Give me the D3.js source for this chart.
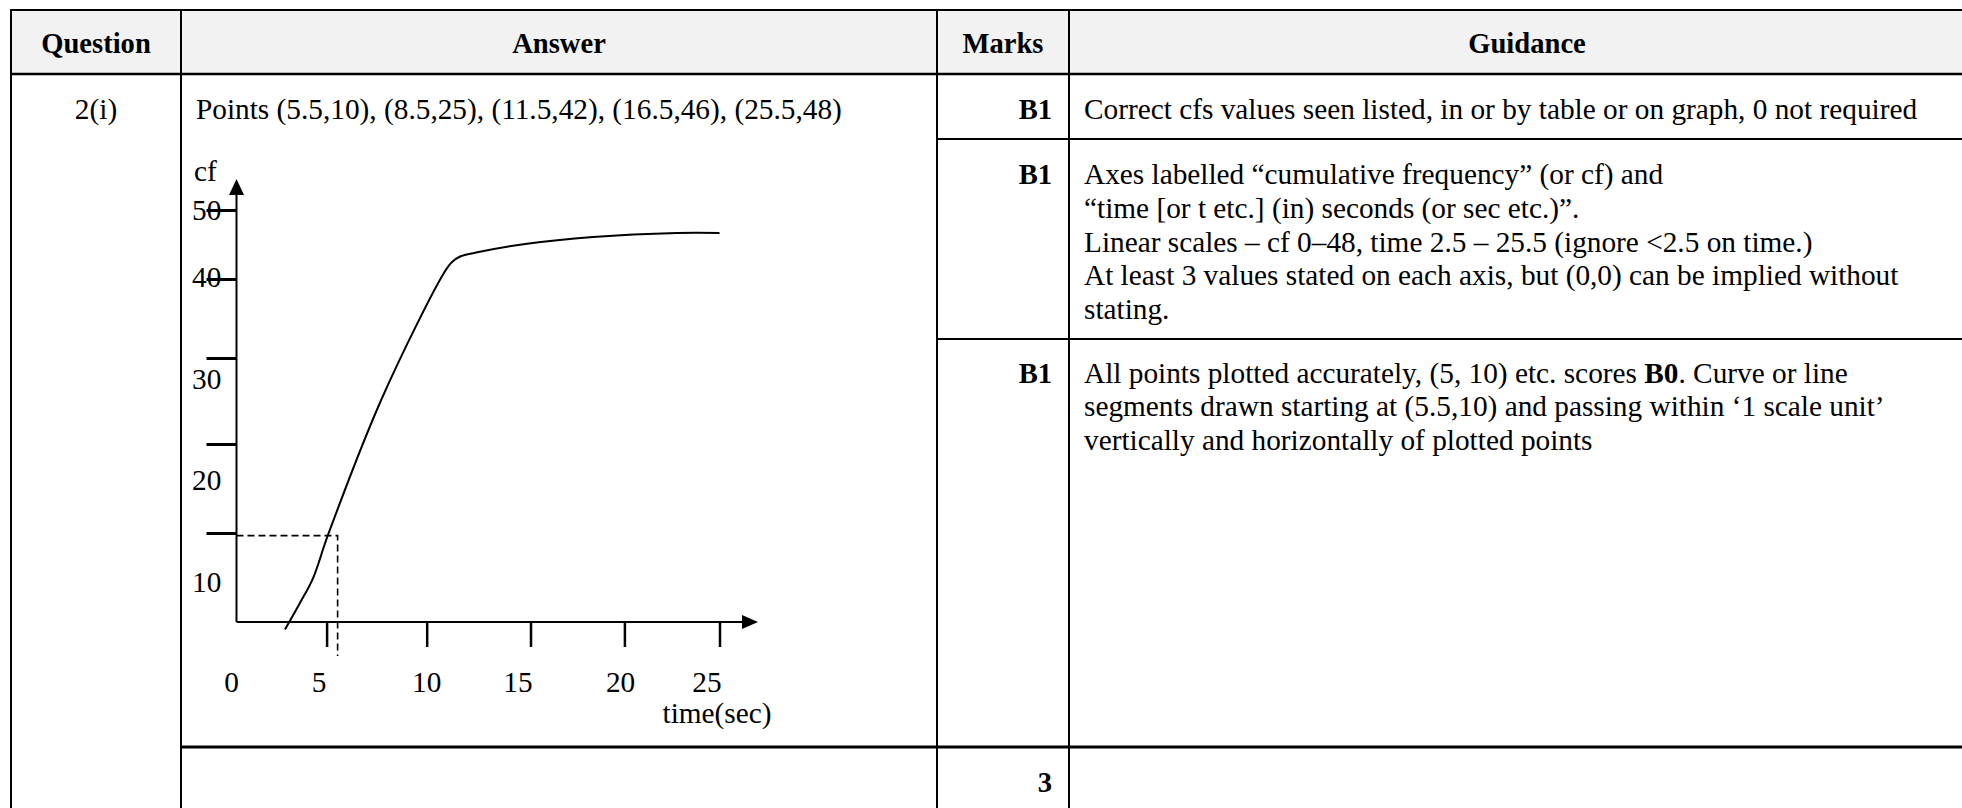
<!DOCTYPE html>
<html>
<head>
<meta charset="utf-8">
<script src="https://cdn.jsdelivr.net/npm/d3@7"></script>
<style>
  html, body { margin: 0; padding: 0; background: #fff; }
  svg { display: block; }
  text { font-family: "Liberation Serif", "Times New Roman", serif; fill: #000; }
</style>
</head>
<body>
<svg id="chart" width="1962" height="808"></svg>
<script>
// ---------- data ----------
const headers = ["Question", "Answer", "Marks", "Guidance"];
const questionLabel = "2(i)";
const answerText = "Points (5.5,10), (8.5,25), (11.5,42), (16.5,46), (25.5,48)";
const marks = ["B1", "B1", "B1"];
const totalMark = "3";
const guidance = [
  [["Correct cfs values seen listed, in or by table or on graph, 0 not required"]],
  [["Axes labelled \u201ccumulative frequency\u201d (or cf) and"],
   ["\u201ctime [or t etc.] (in) seconds (or sec etc.)\u201d."],
   ["Linear scales \u2013 cf 0\u201348, time 2.5 \u2013 25.5 (ignore <2.5 on time.)"],
   ["At least 3 values stated on each axis, but (0,0) can be implied without"],
   ["stating."]],
  [["All points plotted accurately, (5, 10) etc. scores ", "B0", ". Curve or line"],
   ["segments drawn starting at (5.5,10) and passing within \u20181 scale unit\u2019"],
   ["vertically and horizontally of plotted points"]]
];
const xTickValues = [5, 10, 15, 20, 25];
const xTickLabels = [0, 5, 10, 15, 20, 25];
const yTickValues = [10, 20, 30, 40, 50];
const yTickLabels = [10, 20, 30, 40, 50];
const yAxisTitle = "cf";
const xAxisTitle = "time(sec)";
// hand-drawn cumulative frequency curve (time in sec, cf)
const curveTime = [2.69, 3.52, 4.25, 5.07, 7.77, 10.83, 11.22, 11.61, 12.38, 14.74, 18.33, 22.77, 25];
const curveCf   = [-0.84, 2.13, 4.94, 9.78, 25.35, 40.87, 42.46, 43.26, 43.84, 45.07, 46.09, 46.67, 46.67];
// dashed read-off point
const readTime = [5.55];
const readCf = [9.7];

(function () {
// ---------- layout ----------
const svg = d3.select("#chart");
const FS = 29.3;
const FSH = 28.6;
const colX = [11, 181, 937, 1069, 1985];
const tTop = 10, headBottom = 74, rowLines = [139, 339, 747], tBottom = 830;

// header background
svg.append("rect").attr("x", colX[0]).attr("y", tTop)
  .attr("width", colX[4] - colX[0]).attr("height", headBottom - tTop)
  .attr("fill", "#f2f2f2");

// header text
svg.selectAll("text.hdr").data(headers).join("text")
  .attr("class", "hdr")
  .attr("x", (d, i) => (colX[i] + colX[i + 1]) / 2)
  .attr("y", 53)
  .attr("text-anchor", "middle")
  .attr("font-weight", "bold")
  .attr("font-size", FSH)
  .text(d => d);

// row 1 texts
svg.append("text").attr("x", (colX[0] + colX[1]) / 2).attr("y", 119)
  .attr("text-anchor", "middle").attr("font-size", FS).text(questionLabel);
svg.append("text").attr("x", 196).attr("y", 119)
  .attr("font-size", FS).text(answerText);

// marks
const markBase = [119, 184, 382.5];
svg.selectAll("text.mark").data(marks).join("text")
  .attr("class", "mark")
  .attr("x", 1052).attr("y", (d, i) => markBase[i])
  .attr("text-anchor", "end").attr("font-weight", "bold").attr("font-size", FSH)
  .text(d => d);
svg.append("text").attr("x", 1052).attr("y", 792)
  .attr("text-anchor", "end").attr("font-weight", "bold").attr("font-size", FSH)
  .text(totalMark);

// guidance
const lineH = 33.8;
guidance.forEach((lines, gi) => {
  lines.forEach((parts, li) => {
    const t = svg.append("text").attr("x", 1084)
      .attr("y", markBase[gi] + li * lineH).attr("font-size", FS);
    parts.forEach((p) => {
      t.append("tspan").attr("font-weight", (p === "B0") ? "bold" : "normal").text(p);
    });
  });
});

// table lines
const lw = 2;
function hline(yy, x1, x2, w) {
  svg.append("line").attr("x1", x1).attr("x2", x2).attr("y1", yy).attr("y2", yy)
    .attr("stroke", "#000").attr("stroke-width", w || lw);
}
function vline(xx, y1, y2, w) {
  svg.append("line").attr("x1", xx).attr("x2", xx).attr("y1", y1).attr("y2", y2)
    .attr("stroke", "#000").attr("stroke-width", w || lw);
}
hline(tTop, colX[0] - 1, colX[4]);
hline(headBottom, colX[0] - 1, colX[4], 2.5);
hline(rowLines[0], colX[2], colX[4]);
hline(rowLines[1], colX[2], colX[4]);
hline(rowLines[2], colX[1], colX[4], 3);
colX.slice(0, 4).forEach(xx => vline(xx, tTop - 1, tBottom));

// ---------- chart ----------
const x = d3.scaleLinear().domain([0, 5, 10, 15, 20, 25])
  .range([236.5, 326.6, 426.7, 530.5, 624.4, 719.5]);
const y = d3.scaleLinear().domain([0, 10, 20, 30, 40, 50])
  .range([622, 533, 444, 358, 279, 210]);
// hand-placed label positions of the sketch
const yLab = d3.scaleLinear().domain([10, 40, 50]).range([592, 287, 220]);
const xLab = d3.scaleLinear().domain([0, 5, 10, 15, 20, 25])
  .range([231.5, 319, 426.7, 518, 620.6, 707]);

const g = svg.append("g");

// axes lines
g.append("line").attr("x1", x(0)).attr("x2", x(0)).attr("y1", y(0)).attr("y2", 192)
  .attr("stroke", "#000").attr("stroke-width", 2);
g.append("path").attr("d", `M${x(0)},179 L${x(0) - 7.5},195 L${x(0) + 7.5},195 Z`).attr("fill", "#000");
g.append("line").attr("x1", x(0)).attr("x2", 744).attr("y1", y(0)).attr("y2", y(0))
  .attr("stroke", "#000").attr("stroke-width", 2);
g.append("path").attr("d", `M758,${y(0)} L742,${y(0) - 7} L742,${y(0) + 7} Z`).attr("fill", "#000");

// ticks via d3 axes
const yAxis = d3.axisLeft(y).tickValues(yTickValues).tickSize(30).tickFormat("");
const ya = g.append("g").attr("transform", `translate(${x(0)},0)`).call(yAxis);
ya.select(".domain").remove();
ya.selectAll(".tick line").attr("stroke", "#000").attr("stroke-width", 3);

const xAxis = d3.axisBottom(x).tickValues(xTickValues).tickSize(25).tickFormat("");
const xa = g.append("g").attr("transform", `translate(0,${y(0)})`).call(xAxis);
xa.select(".domain").remove();
xa.selectAll(".tick line").attr("stroke", "#000").attr("stroke-width", 2.5);

// tick labels
g.selectAll("text.ylab").data(yTickLabels).join("text")
  .attr("class", "ylab").attr("x", 192).attr("y", d => yLab(d))
  .attr("font-size", FS).text(d => d);
g.selectAll("text.xlab").data(xTickLabels).join("text")
  .attr("class", "xlab").attr("x", d => xLab(d)).attr("y", 692)
  .attr("text-anchor", "middle").attr("font-size", FS).text(d => d);
g.append("text").attr("x", 194).attr("y", 181).attr("font-size", FS).text(yAxisTitle);
g.append("text").attr("x", 717).attr("y", 723).attr("text-anchor", "middle")
  .attr("font-size", FS).text(xAxisTitle);

// dashed read-off lines
g.append("path")
  .attr("d", `M${x(0)},${y(readCf[0])} H${x(readTime[0])} V656`)
  .attr("fill", "none").attr("stroke", "#000").attr("stroke-width", 1.6)
  .attr("stroke-dasharray", "7,4");

// curve
const pts = curveTime.map((t, i) => [t, curveCf[i]]);
const line = d3.line().x(d => x(d[0])).y(d => y(d[1])).curve(d3.curveCatmullRom.alpha(0.5));
g.append("path").datum(pts).attr("d", line)
  .attr("fill", "none").attr("stroke", "#000").attr("stroke-width", 2);
})();
</script>
</body>
</html>
